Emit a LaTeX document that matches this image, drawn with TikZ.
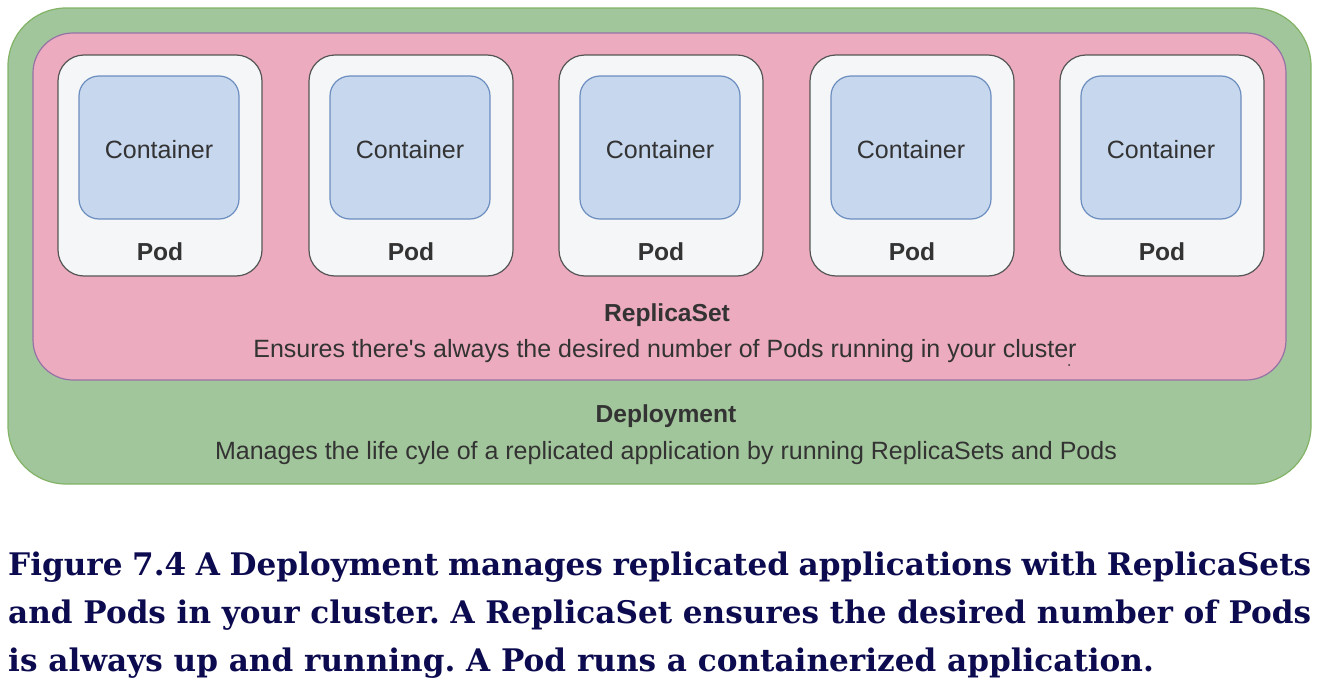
\documentclass[tikz,border=0pt]{standalone}
\usepackage{fontspec}
\setmainfont{DejaVu Serif}
\newfontfamily\diag{Liberation Sans}
\usetikzlibrary{positioning}
\definecolor{depfill}{HTML}{A2C69B}
\definecolor{depline}{HTML}{82B366}
\definecolor{rsfill}{HTML}{ECABBF}
\definecolor{rsline}{HTML}{9673A6}
\definecolor{podfill}{HTML}{F5F6F8}
\definecolor{podline}{HTML}{555555}
\definecolor{ctfill}{HTML}{C6D7EE}
\definecolor{ctline}{HTML}{6C8EBF}
\definecolor{txt}{HTML}{333333}
\definecolor{capcol}{HTML}{0D0B4F}
\tikzset{
  depbox/.style={draw=depline, fill=depfill, line width=1.2pt, rounded corners=58pt},
  rsbox/.style={draw=rsline, fill=rsfill, line width=1.2pt, rounded corners=40pt},
  podbox/.style={draw=podline, fill=podfill, line width=1.2pt, rounded corners=26pt},
  ctbox/.style={draw=ctline, fill=ctfill, line width=1.2pt, rounded corners=20pt},
  lbl/.style={text=txt, font=\diag\fontsize{25}{29}\selectfont, inner sep=0pt},
  blbl/.style={text=txt, font=\diag\bfseries\fontsize{24.6}{29}\selectfont, inner sep=0pt},
}
\begin{document}
\begin{tikzpicture}[x=1pt,y=-1pt]
\useasboundingbox (0,0) rectangle (1318,688);
\draw[depbox] (8,8) rectangle (1311,484);
\draw[rsbox] (33,33) rectangle (1286,380);
\foreach \i/\x in {1/58,2/309,3/559,4/810,5/1060}{
  \draw[podbox] (\x,55) rectangle ++(204,221);
  \draw[ctbox] (\x+21,76) rectangle ++(160,143);
  \node[lbl] (c\i) at (\x+101,149.5) {Container};
  \node[blbl] (p\i) at (\x+102,252) {Pod};
}
\node[blbl] (rs) at (667,315) {ReplicaSet};
\node[lbl] (rsd) at (665,351) {Ensures there's always the desired number of Pods running in your cluster};
\fill[txt] (1069,365) circle (1pt);
\node[blbl] (dep) at (666,416) {Deployment};
\node[lbl] (depd) at (666,453) {Manages the life cyle of a replicated application by running ReplicaSets and Pods};
\node[anchor=north west, inner sep=0pt, text width=1303pt, align=justify, text=capcol,
  font=\bfseries\fontsize{31.1}{48}\selectfont] (cap) at (8,552)
  {\frenchspacing Figure 7.4 A Deployment manages replicated applications with ReplicaSets\linebreak and Pods in your cluster. A ReplicaSet ensures the desired number of Pods\linebreak is always up and running. A Pod runs a containerized application.};
\end{tikzpicture}
\end{document}
